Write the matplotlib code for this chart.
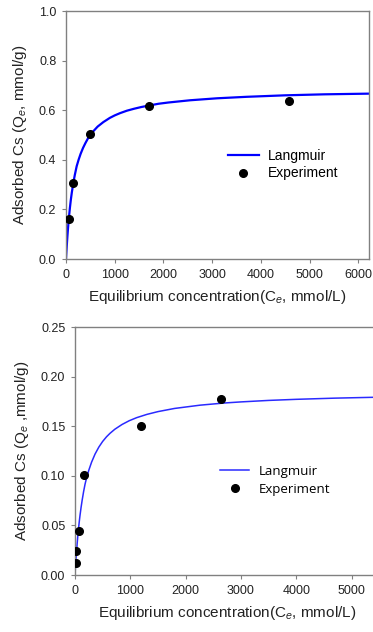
import matplotlib
matplotlib.use("Agg")
import matplotlib.pyplot as plt

plt.rcParams['font.family'] = ['Liberation Sans', 'DejaVu Sans']
plt.rcParams['mathtext.fontset'] = 'custom'
plt.rcParams['mathtext.rm'] = 'Liberation Sans'
plt.rcParams['mathtext.it'] = 'Liberation Sans:italic'

# ---- Top panel data ----
top_exp_c = [62, 150, 490, 1710, 4570]
top_exp_q = [0.162, 0.305, 0.505, 0.615, 0.636]
top_fit_c = [0, 5, 10, 15, 20, 30, 40, 50, 62, 80, 100, 120, 150, 180, 219, 260, 300,
             350, 400, 450, 493, 560, 650, 766, 900, 1000, 1108, 1250, 1400, 1550,
             1710, 1900, 2100, 2545, 3100, 3709, 4500, 5300, 6300]
top_fit_q = [0.0, 0.018, 0.035, 0.051, 0.066, 0.095, 0.121, 0.145, 0.171, 0.206,
             0.240, 0.269, 0.306, 0.338, 0.374, 0.401, 0.424, 0.448, 0.468, 0.486,
             0.498, 0.515, 0.534, 0.552, 0.569, 0.579, 0.588, 0.598, 0.606, 0.613,
             0.619, 0.626, 0.631, 0.640, 0.648, 0.654, 0.660, 0.664, 0.667]
top_xticks = [0, 1000, 2000, 3000, 4000, 5000, 6000]
top_yticks = [0.0, 0.2, 0.4, 0.6, 0.8, 1.0]

# ---- Bottom panel data ----
bot_exp_c = [12, 24, 66, 169, 1200, 2640]
bot_exp_q = [0.0124, 0.0245, 0.0447, 0.101, 0.150, 0.1776]
bot_fit_c = [0, 5, 10, 15, 20, 30, 40, 50, 60, 75, 90, 110, 130, 155, 181, 210, 250,
             300, 362, 430, 500, 570, 633, 720, 850, 980, 1115, 1300, 1500, 1800,
             2260, 2700, 3000, 3500, 4000, 4700, 5600]
bot_fit_q = [0.0, 0.0048, 0.0093, 0.0137, 0.0178, 0.0254, 0.0324, 0.0389, 0.0448,
             0.0528, 0.0599, 0.0683, 0.0757, 0.0840, 0.0915, 0.0982, 0.1058, 0.1139,
             0.1220, 0.1290, 0.1348, 0.1395, 0.1430, 0.1471, 0.1519, 0.1557, 0.1588,
             0.1621, 0.1649, 0.1681, 0.1714, 0.1736, 0.1747, 0.1762, 0.1773, 0.1785,
             0.1796]
bot_xticks = [0, 1000, 2000, 3000, 4000, 5000]
bot_yticks = [0.00, 0.05, 0.10, 0.15, 0.20, 0.25]

W, H = 373, 632
fig = plt.figure(figsize=(W / 100, H / 100), dpi=100)
fig.patch.set_facecolor('white')

spine_col = '#808080'


def style(ax):
    for s in ax.spines.values():
        s.set_color(spine_col)
        s.set_linewidth(1.0)
    ax.tick_params(direction='out', length=3, width=0.8, color=spine_col,
                   labelsize=9, pad=4, labelcolor='#222222')


# Top axes: left 66, right 369, top 11, bottom 259 (pixels)
ax1 = fig.add_axes([66 / W, 1 - 259 / H, (369 - 66) / W, (259 - 11) / H])
ax1.plot(top_fit_c, top_fit_q, color='#0000ff', lw=1.6, label='Langmuir', zorder=2)
ax1.plot(top_exp_c, top_exp_q, 'o', color='black', ms=5.5, label='Experiment', zorder=3)
ax1.set_xlim(0, 6220)
ax1.set_ylim(0, 1.0)
ax1.set_xticks(top_xticks)
ax1.set_yticks(top_yticks)
ax1.set_yticklabels([f'{v:.1f}' for v in top_yticks])
style(ax1)
ax1.set_xlabel('Equilibrium concentration(C$_{e}$, mmol/L)', fontsize=11, labelpad=5,
               color='#222222')
ax1.set_ylabel('Adsorbed Cs (Q$_{e}$, mmol/g)', fontsize=11, labelpad=7, color='#222222')
ax1.legend(loc='upper left', bbox_to_anchor=((228 - 66) / (369 - 66), (259 - 149) / 248),
           frameon=False, fontsize=10, handlelength=2.2, handletextpad=0.7,
           labelspacing=0.25, borderaxespad=0, borderpad=0)

# Bottom axes: left 75, top 327.3, bottom 575, right beyond figure
x_per = 55.3  # px per 1000
right_px = 75 + 5.5 * x_per
ax2 = fig.add_axes([75 / W, 1 - 575 / H, (right_px - 75) / W, (575 - 327.3) / H])
ax2.plot(bot_fit_c, bot_fit_q, color='#2a2aff', lw=1.1, label='Langmuir', zorder=2)
ax2.plot(bot_exp_c, bot_exp_q, 'o', color='black', ms=5.5, label='Experiment', zorder=3)
ax2.set_xlim(0, 5500)
ax2.set_ylim(0, 0.25)
ax2.set_xticks(bot_xticks)
ax2.set_yticks(bot_yticks)
ax2.set_yticklabels([f'{v:.2f}' for v in bot_yticks])
style(ax2)
ax2.set_xlabel('Equilibrium concentration(C$_{e}$, mmol/L)', fontsize=11, labelpad=5,
               color='#222222')
ax2.set_ylabel('Adsorbed Cs (Q$_{e}$ ,mmol/g)', fontsize=11, labelpad=7, color='#222222')
ax2.legend(loc='upper left',
           bbox_to_anchor=((220 - 75) / (right_px - 75), (575 - 465) / 247.7),
           frameon=False, prop={'family': 'Open Sans', 'size': 9.5},
           handlelength=2.2, handletextpad=0.7, labelspacing=0.35,
           borderaxespad=0, borderpad=0)

fig.savefig('out.png', dpi=100, facecolor='white')
